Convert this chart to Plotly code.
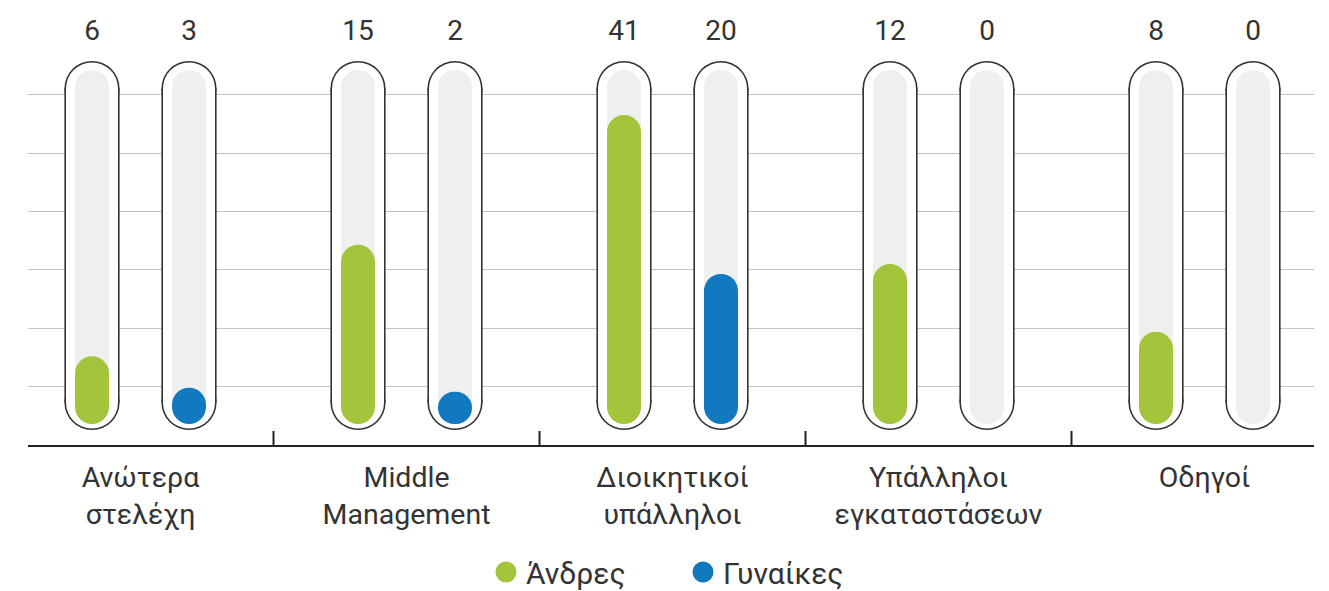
import plotly.graph_objects as go

# ---------------- data ----------------
categories = ["Ανώτερα<br>στελέχη", "Middle<br>Management", "Διοικητικοί<br>υπάλληλοι",
              "Υπάλληλοι<br>εγκαταστάσεων", "Οδηγοί"]
men_counts = [6, 15, 41, 12, 8]
women_counts = [3, 2, 20, 0, 0]
# fill level of each tube, as drawn in the picture (in gridline units)
men_fill = [1.52, 3.43, 5.65, 3.10, 1.94]
women_fill = [0.98, 0.91, 2.93, 0.0, 0.0]
series_names = ["Άνδρες", "Γυναίκες"]
series_colors = ["#A3C43B", "#1079BF"]

# ---------------- geometry / style ----------------
PAGE_OFF = 8                      # default body margin of the html page
W, H = 1329 - PAGE_OFF, 591 - PAGE_OFF
L, R, T, B = 28 - PAGE_OFF, 15, 10 - PAGE_OFF, 146
PX_PER_UNIT_Y = 58.4
PX_PER_CAT = 266.0
plot_w = W - L - R
plot_h = H - T - B
y_max = plot_h / PX_PER_UNIT_Y
x_lo = -(140.5 - 28) / PX_PER_CAT
x_hi = x_lo + plot_w / PX_PER_CAT
pair_off = 48.5 / PX_PER_CAT
fill_w_units = 34 / PX_PER_CAT

def py2y(py):
    return (445 - py) / PX_PER_UNIT_Y

fill_base = py2y(424)      # bottom of the inner track / fill
FONT = "Roboto"
TXT = "#333333"

shapes = []

def pill(xc, yb, yt, r, color, layer="between"):
    # rectangle between cap centres, plus two round caps (pixel-sized)
    shapes.append(dict(type="rect", xref="x", yref="y", xsizemode="pixel", xanchor=xc,
                       x0=-r, x1=r, y0=yb, y1=yt, fillcolor=color, line_width=0, layer=layer))
    for yc in (yb, yt):
        shapes.append(dict(type="circle", xref="x", yref="y", xsizemode="pixel", ysizemode="pixel",
                           xanchor=xc, yanchor=yc, x0=-r, x1=r, y0=-r, y1=r,
                           fillcolor=color, line_width=0, layer=layer))

centers = []
for i in range(len(categories)):
    for s in (-1, 1):
        centers.append(i + s * pair_off)

# outer capsule (dark outline + white body), then grey track
for xc in centers:
    pill(xc, py2y(402.5), py2y(88.5), 27.6, "#333333")
for xc in centers:
    pill(xc, py2y(402.5), py2y(88.5), 26.0, "#ffffff")
for xc in centers:
    pill(xc, py2y(407), py2y(87), 17, "#efefef")

# category dividers on baseline
for i in range(len(categories) - 1):
    shapes.append(dict(type="line", xref="x", yref="y", ysizemode="pixel", yanchor=0,
                       x0=i + 0.5, x1=i + 0.5, y0=-12, y1=14,
                       line=dict(color="#222222", width=2), layer="above"))

fig = go.Figure()

fills = [men_fill, women_fill]
for k, fl in enumerate(fills):
    xs = [i + (2 * k - 1) * pair_off for i in range(len(categories))]
    heights = [v - fill_base if v > 0 else 0 for v in fl]
    fig.add_trace(go.Bar(
        x=xs, y=heights, base=[fill_base] * len(fl), width=fill_w_units,
        marker=dict(color=series_colors[k], cornerradius="50%", line_width=0),
        showlegend=False, hoverinfo="skip"))

# value labels
counts = [men_counts, women_counts]
for k, c in enumerate(counts):
    xs = [i + (2 * k - 1) * pair_off for i in range(len(categories))]
    fig.add_trace(go.Scatter(
        x=xs, y=[py2y(33)] * len(c), mode="text", text=[str(v) for v in c],
        textposition="middle center", textfont=dict(family=FONT, size=28, color=TXT),
        showlegend=False, hoverinfo="skip", cliponaxis=False))

# legend entries
for k in range(2):
    fig.add_trace(go.Scatter(
        x=[None], y=[None], mode="markers", name=series_names[k],
        marker=dict(color=series_colors[k], size=16, line=dict(color=series_colors[k], width=5))))

fig.update_layout(
    width=W, height=H,
    margin=dict(l=L, r=R, t=T, b=B, autoexpand=False),
    paper_bgcolor="white", plot_bgcolor="white",
    barmode="overlay",
    shapes=shapes,
    showlegend=True,
    legend=dict(orientation="h", x=0.5 + 12 / plot_w, xanchor="center", y=-127 / plot_h,
                yanchor="middle", font=dict(family=FONT, size=30, color=TXT), itemsizing="trace",
                entrywidth=152, entrywidthmode="pixels"),
    font=dict(family=FONT, color=TXT),
    xaxis=dict(range=[x_lo, x_hi], tickvals=list(range(len(categories))),
               ticktext=categories, ticks="", showgrid=False, zeroline=False,
               showline=True, linecolor="#222222", linewidth=2, ticklabelstandoff=6,
               automargin=False,
               tickfont=dict(family=FONT, size=28.5, color=TXT), fixedrange=True),
    yaxis=dict(range=[0, y_max], tickvals=[1, 2, 3, 4, 5, 6], showticklabels=False,
               showgrid=True, gridcolor="#c2c2c2", gridwidth=1, zeroline=False,
               showline=False, fixedrange=True, automargin=False),
)

fig.write_html("out.html")
